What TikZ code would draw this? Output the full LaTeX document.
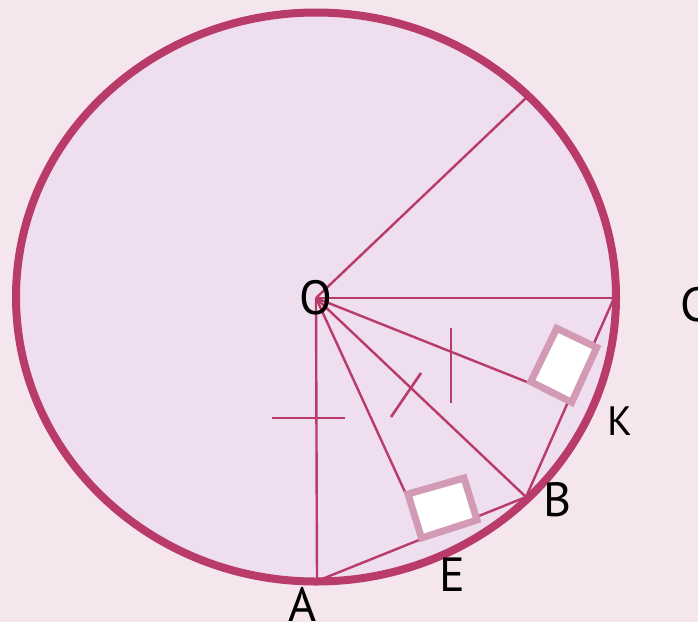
\documentclass[tikz,border=0pt]{standalone}
\usepackage{fontspec}
\setmainfont{PT Sans}
\definecolor{bg}{HTML}{F5E6EE}
\definecolor{disc}{HTML}{EEDEEF}
\definecolor{rim}{HTML}{B83B6A}
\definecolor{marker}{HTML}{D39AB5}
\begin{document}
\begin{tikzpicture}[x=1pt,y=-1pt,
  seg/.style={rim, line width=2.4pt},
  tick/.style={rim, line width=2.6pt},
  rightmark/.style={marker, line width=7pt, fill=white, line join=miter},
  lab/.style={inner sep=0pt, text=black, font=\fontsize{48}{50}\selectfont},
  labsmall/.style={inner sep=0pt, text=black, font=\fontsize{41}{44}\selectfont}]
\useasboundingbox (0,0) rectangle (698,622);
\clip (0,0) rectangle (698,622);
\fill[bg] (0,0) rectangle (698,622);
% disc
\fill[disc] (316,297) ellipse [x radius=300pt, y radius=284.5pt];
% points
\coordinate (O) at (316,298);
\coordinate (T) at (526,98);
\coordinate (C) at (614,298);
\coordinate (A) at (317,581);
\coordinate (B) at (526,497);
\coordinate (Kend) at (527,382);
\coordinate (Eend) at (405,492);
% segments
\draw[seg] (O) -- (T);
\draw[seg] (O) -- (C);
\draw[seg] (O) -- (A);
\draw[seg] (O) -- (B);
\draw[seg] (O) -- (Kend);
\draw[seg] (O) -- (Eend);
\draw[seg] (C) -- (B);
\draw[seg] (A) -- (B);
% equal-length ticks
\coordinate (t1a) at (272,418); \coordinate (t1b) at (345,418);
\coordinate (t2a) at (391,417); \coordinate (t2b) at (421,373);
\coordinate (t3a) at (451,328); \coordinate (t3b) at (451,403);
\draw[tick] (t1a) -- (t1b);
\draw[tick] (t2a) -- (t2b);
\draw[tick] (t3a) -- (t3b);
% right-angle markers
\coordinate (k1) at (556.7,328.3); \coordinate (k2) at (596.7,347.5);
\coordinate (k3) at (571.7,402.3); \coordinate (k4) at (530.8,381.7);
\draw[rightmark] (k1) -- (k2) -- (k3) -- (k4) -- cycle;
\coordinate (e1) at (408,494); \coordinate (e2) at (464,478);
\coordinate (e3) at (477,520); \coordinate (e4) at (421.5,538);
\draw[rightmark] (e1) -- (e2) -- (e3) -- (e4) -- cycle;
% rim
\draw[rim, line width=8pt] (316,297) ellipse [x radius=300pt, y radius=284.5pt];
% labels
\node[lab] (lO) at (316,297.5) {О};
\node[lab, anchor=west] (lC) at (680,304.5) {С};
\node[labsmall] (lK) at (619.5,421) {К};
\node[lab] (lB) at (558,500) {В};
\node[lab] (lE) at (452.5,575) {Е};
\node[lab] (lA) at (303,604) {А};
\end{tikzpicture}
\end{document}
